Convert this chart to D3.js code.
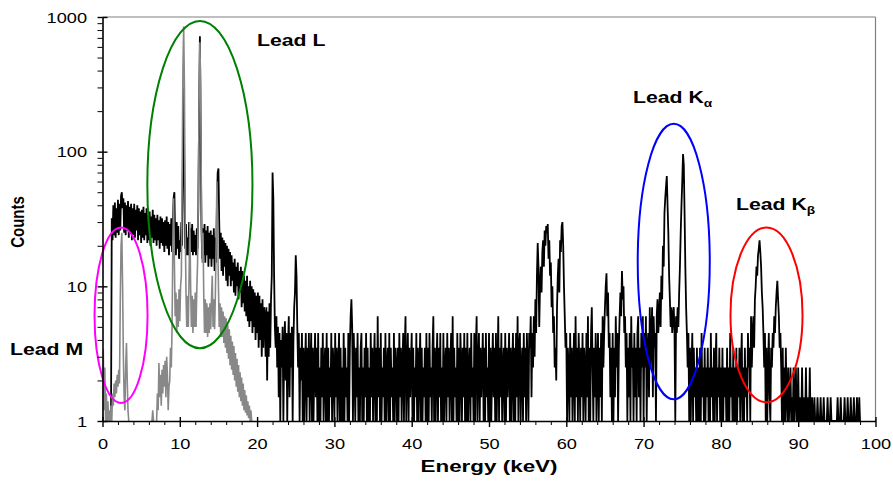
<!DOCTYPE html>
<html>
<head>
<meta charset="utf-8">
<style>
  body { margin: 0; background: #fff; }
  svg text { font-family: "Liberation Sans", Arial, sans-serif; }
</style>
</head>
<body>
<svg id="chart" width="893" height="481"></svg>
<script src="https://d3js.org/d3.v7.min.js"></script>
<script>
// spectrum behind lead (black), 0.1 keV per point, one row per keV
const blackStart = 0, blackStep = 0.1;
const blackCounts = [
  null,null,null,null,null,null,null,null,null,null,
  null,1,32,22,40,24,42,23,38,25,
  44,24,41,26,47,50,38,45,25,42,
  24,40,26,43,23,39,25,41,22,38,
  24,41,23,37,26,40,22,38,24,36,
  21,37,23,39,22,35,24,38,21,34,
  22,36,20,33,23,37,21,34,22,32,
  20,34,22,31,19,33,21,32,20,30,
  18,31,20,33,19,30,17,29,20,32,
  18,29,45,50,22,17,30,19,28,16,
  22,18,30,20,90,300,60,19,29,17,
  23,17,30,16,27,18,29,17,26,18,
  24,17,27,19,40,200,720,150,28,16,
  27,17,29,15,26,17,28,14,25,16,
  26,14,24,16,27,13,23,15,40,70,
  75,30,16,25,13,23,12,22,14,21,
  11,20,10,19,12,18,10,17,11,15,
  9,16,8.5,14,10,15,8,13,9,14,
  7,13,7.5,12,6.5,11,6,12,5.5,10,
  5,11,5.5,10,4.5,9.5,5,9,4,8.5,
  4.5,9,3.5,8.5,4,7.5,3,8,3.5,7,
  6,3,7,2,6.5,3,7.5,3.5,8,12,
  70,45,12,5,3.5,6,2.5,5,1.5,4.5,
  1,4,2.5,5,1,3.5,5.5,2,4.5,1,
  3.5,6,1.5,4.5,2.5,5,1,4,7,9,
  17,12,5,2.5,4.5,1,3.5,2,4.5,1,
  3.5,1,2.5,4.5,1,3.5,1.5,4.5,1,2.5,
  4.5,1,3.5,1,2.5,4.5,1.5,3.5,1,4.5,
  1,2.5,1,3.5,1.5,4.5,1,2.5,3.5,1,
  4.5,1,3.5,1,2.5,1.5,4.5,1,3.5,2.5,
  1,4.5,1.5,3.5,1,2.5,4.5,1,3.5,1,
  2.5,1,4.5,1,3.5,1.5,2.5,1,4.5,1,
  3.5,6,8,5,1,4.5,2.5,1,3.5,1.5,
  4.5,1,2.5,1,3.5,4.5,1,2.5,1,3.5,
  1.5,4.5,1,3.5,1,2.5,1,4.5,1.5,3.5,
  1,2.5,4.5,1,3.5,1,6,1.5,3.5,1,
  4.5,1,2.5,1.5,3.5,1,4.5,1,2.5,3.5,
  1,4.5,1,3.5,1.5,2.5,1,4.5,1,3.5,
  2.5,1,3.5,1,4.5,1.5,3.5,1,2.5,4.5,
  1,3.5,6,1,2.5,4.5,1,3.5,1.5,2.5,
  4.5,1,3.5,1,2.5,1.5,4.5,1,3.5,1,
  2.5,4.5,1,3.5,1,2.5,1.5,3.5,1,4.5,
  1,3.5,1,4.5,1.5,2.5,1,3.5,6,1,
  3.5,1,2.5,4.5,1,3.5,1.5,4.5,1,2.5,
  1,4.5,1,2.5,3.5,1,4.5,1.5,3.5,1,
  2.5,4.5,1,6,1,3.5,1.5,2.5,1,4.5,
  1,3.5,1,4.5,2.5,1,3.5,1.5,4.5,1,
  3.5,1,4.5,1,2.5,3.5,1,4.5,1.5,2.5,
  1,4.5,1,3.5,6,1,2.5,4.5,1,3.5,
  1.5,2.5,4.5,1,3.5,1,4.5,1.5,2.5,1,
  4.5,1,3.5,1,2.5,4.5,1.5,3.5,1,4.5,
  1,2.5,6,1,3.5,1.5,4.5,1,2.5,3.5,
  1,4.5,1,3.5,1.5,2.5,4.5,1,3.5,1,
  2.5,4.5,1,3.5,1,4.5,1.5,6,1,3.5,
  4.5,1,2.5,3.5,1,4.5,1.5,3.5,1,4.5,
  2.5,1,4.5,3.5,6,1.5,4.5,2.5,6,3,
  8,4.5,12,21,14,5,10,14,9,18,
  22,14,26,20,28,25,29,16,22,12,
  15,7,10,4.5,6,2.5,3.5,2,7,12,
  16,9,22,18,28,30,20,10,6,3.5,
  4.5,1,3.5,2.5,1,4.5,1.5,3.5,1,2.5,
  4.5,1,6,1.5,3.5,1,4.5,2.5,1,3.5,
  1.5,4.5,1,3.5,2.5,1,4.5,1.5,6,1,
  3.5,1,4.5,7,2.5,1,3.5,1.5,4.5,1,
  2.5,4.5,1,3.5,1.5,4.5,1,6,2.5,4.5,
  7,10,12.5,6,9,3.5,4.5,1.5,3.5,1,
  4.5,1,3.5,1.5,6,2.5,4.5,1,3.5,6,
  9,6,13,8,10,4.5,6,2.5,4.5,1,
  3.5,1.5,4.5,1,6,2.5,3.5,1,4.5,1.5,
  3.5,1,4.5,6,1.5,3.5,1,4.5,2.5,6,
  1,4.5,2.5,6,1,3.5,4.5,1.5,7,2.5,
  4.5,7,1.5,6,3.5,4.5,1,6,8,4.5,
  6,9,5,12,8,20,14,35,45,55,
  66,40,25,12,8,5,7,4.5,6,7,
  4.5,1,6,4.5,7,5,9,14,25,40,
  60,96,80,35,14,7,4.5,2.5,4.5,1,
  3.5,1,2.5,4.5,1,3.5,1.5,2.5,1,3.5,
  1,2.5,1,3.5,1,4.5,1.5,2.5,1,3.5,
  1,2.5,1.5,3.5,1,2.5,1,4.5,1.5,2.5,
  1,3.5,1,2.5,4.5,1,2.5,1.5,3.5,1,
  2.5,1,3.5,1,2.5,1.5,2.5,1,3.5,1,
  2.5,1,4.5,1.5,2.5,1,3.5,1,2.5,1,
  3.5,1,2.5,1.5,3.5,1,2.5,4.5,1,2.5,
  1,3.5,1.5,2.5,1,4.5,2.5,3.5,1,6,
  2.5,4.5,6,3.5,8,10,14,12,17,19,
  22,18,14,9,7,4.5,2.5,4.5,1,3.5,
  1,2.5,4.5,1.5,1,3.5,2.5,4.5,3.5,6,
  4.5,7,9,11,8,6,3.5,4.5,2.5,1,
  3.5,1,2.5,1,3.5,1.5,1,2.5,1,1.5,
  2.5,1,1.5,1,2.5,1,1.5,2.5,1,1,
  2.5,1,1.5,1,1,2.5,1,1.5,1,1,
  2.5,1,1,1.5,1,2.5,1,1,1.5,1,
  1,1.5,1,1,1,1.5,1,1,1,1.5,
  1,1,1,1.5,1,1,1,1,1.5,1,
  1,1,1.5,1,1,1,1,1,1,1,
  1,1.5,1,1,1,1.5,1,1,1,1,
  1.5,1,1,1,1.5,1,1,1,1.5,1,
  1,1,1.5,1,1,1,1.5,1,1,1.5,
  1
];

// unshielded spectrum (grey), 0.1 keV per point
const grayStart = 0, grayStep = 0.1;
const grayCounts = [
  1,3.4,1.2,2.5,1,1.6,1,1.4,1,1.2,
  1,1.3,1,1.6,1.3,1.9,1.5,2,1.6,2.2,
  1.8,2.4,1.9,8,20,25,10,3,1.5,1.2,
  2.5,3.8,2,1.2,1,null,null,null,null,null,
  null,null,null,null,null,null,null,null,null,null,
  null,null,null,null,null,null,null,null,null,null,
  null,null,null,null,1,1.2,1,null,null,null,
  1,1.6,1.2,2.7,1.5,2.2,1.3,2.4,1.6,2.6,
  1.8,2.8,1.5,3,2.2,1.2,1.8,2,3.5,2.5,
  5,20,45,15,6,9,4.5,8,5,9.5,
  5.5,10,12,60,400,850,300,30,9,5,
  8.5,5,12,30,10,5,8.5,4.5,8,5,
  9,5,9.5,15,50,250,650,300,40,15,
  25,8.5,4.5,8,4.5,7.5,4.2,7,4.5,7.5,
  4.8,8,12,5,8,4.8,8.5,20,60,25,
  10,5,7.5,4.2,7,4.2,6.5,3.8,6,3.5,
  5.8,3.2,5.2,2.9,4.8,2.6,4.3,2.4,3.9,2.2,
  3.6,2,3.2,1.8,2.9,1.65,2.6,1.5,2.3,1.4,
  2.1,1.3,1.9,1.2,1.7,1.15,1.55,1.1,1.4,1.05,
  1.3,1,1.2,1
];

const xTicks = [0, 10, 20, 30, 40, 50, 60, 70, 80, 90, 100];
const yTicks = [1, 10, 100, 1000];

// circled peak groups: centre energy, half width (keV), top / bottom count
const regions = [
  {name: "M",  color: "#ff00ff", energy: 2.4,  halfWidth: 3.43, top: 27.3, bottom: 1.36},
  {name: "L",  color: "#008000", energy: 12.6, halfWidth: 6.8,  top: 935,  bottom: 3.47},
  {name: "Ka", color: "#0000ff", energy: 73.9, halfWidth: 4.66, top: 161,  bottom: 1.45},
  {name: "Kb", color: "#ff0000", energy: 85.9, halfWidth: 4.66, top: 27.3, bottom: 1.38}
];

const svg = d3.select("#chart");
const x = d3.scaleLinear().domain([0, 100]).range([102.5, 875.5]);
const y = d3.scaleLog().domain([1, 1000]).range([421, 17]);

svg.append("clipPath").attr("id", "plot")
  .append("rect")
  .attr("x", x(0)).attr("y", y(1000))
  .attr("width", x(100) - x(0)).attr("height", y(1) - y(1000));

// frame top / right
svg.append("line")
  .attr("x1", x(0)).attr("x2", x(100)).attr("y1", y(1000)).attr("y2", y(1000))
  .attr("stroke", "#808080").attr("stroke-width", 1.2);
svg.append("line")
  .attr("x1", x(100)).attr("x2", x(100)).attr("y1", y(1000)).attr("y2", y(1))
  .attr("stroke", "#808080").attr("stroke-width", 1.2);

const toPts = (arr, start, step) => arr.map((c, i) => ({e: start + i * step, c: c}));

const line = d3.line()
  .defined(d => d.c != null)
  .x(d => x(d.e))
  .y(d => y(d.c));

const plot = svg.append("g").attr("clip-path", "url(#plot)");

plot.append("path")
  .datum(toPts(blackCounts, blackStart, blackStep))
  .attr("fill", "none")
  .attr("stroke", "#000")
  .attr("stroke-width", 1.8)
  .attr("d", line);

plot.append("path")
  .datum(toPts(grayCounts, grayStart, grayStep))
  .attr("fill", "none")
  .attr("stroke", "#888")
  .attr("stroke-width", 1.6)
  .attr("d", line);

// ellipses
svg.append("g").selectAll("ellipse")
  .data(regions)
  .join("ellipse")
  .attr("cx", d => x(d.energy))
  .attr("cy", d => (y(d.top) + y(d.bottom)) / 2)
  .attr("rx", d => x(d.energy + d.halfWidth) - x(d.energy))
  .attr("ry", d => (y(d.bottom) - y(d.top)) / 2)
  .attr("fill", "none")
  .attr("stroke", d => d.color)
  .attr("stroke-width", 2);

// y axis
const yAxis = svg.append("g").attr("transform", `translate(${x(0)},0)`);
yAxis.call(d3.axisLeft(y).tickValues(yTicks).tickFormat(d3.format("d")).tickSize(5).tickSizeOuter(0));
yAxis.select(".domain").attr("stroke-width", 1.6);
yAxis.selectAll(".tick line").attr("stroke-width", 1.4);
yAxis.selectAll(".tick text")
  .attr("x", -11.9).attr("dy", "0.36em")
  .attr("font-size", 14).attr("fill", "#000")
  .attr("transform", "scale(1.3,1)");
// inner half of major ticks
svg.append("g").attr("transform", `translate(${x(0)},0)`)
  .call(d3.axisLeft(y).tickValues(yTicks).tickFormat("").tickSize(-5))
  .call(g => g.select(".domain").remove())
  .selectAll("line").attr("stroke-width", 1.4);
// minor ticks
svg.append("g").attr("transform", `translate(${x(0)},0)`)
  .call(d3.axisLeft(y).tickValues(y.ticks().filter(v => !yTicks.includes(v))).tickFormat("").tickSize(5))
  .call(g => g.select(".domain").remove());

// x axis
const xAxis = svg.append("g").attr("transform", `translate(0,${y(1)})`);
xAxis.call(d3.axisBottom(x).tickValues(xTicks).tickSize(6).tickSizeOuter(0));
xAxis.select(".domain").attr("stroke-width", 1.6);
xAxis.selectAll(".tick line").attr("stroke-width", 1.4);
xAxis.selectAll(".tick text")
  .attr("y", 28).attr("dy", 0)
  .attr("font-size", 14).attr("fill", "#000")
  .attr("transform", "scale(1.3,1)");
svg.append("g").attr("transform", `translate(0,${y(1)})`)
  .call(d3.axisBottom(x).tickValues(xTicks).tickFormat("").tickSize(-4))
  .call(g => g.select(".domain").remove())
  .selectAll("line").attr("stroke-width", 1.4);
svg.append("g").attr("transform", `translate(0,${y(1)})`)
  .call(d3.axisBottom(x).tickValues(d3.range(2, 100, 2).filter(v => v % 10)).tickFormat("").tickSize(4))
  .call(g => g.select(".domain").remove());

// axis titles
svg.append("text")
  .attr("x", (x(0) + x(100)) / 2).attr("y", 472)
  .attr("text-anchor", "middle")
  .attr("font-size", 16).attr("font-weight", "bold")
  .attr("textLength", 137).attr("lengthAdjust", "spacingAndGlyphs")
  .text("Energy (keV)");

svg.append("text")
  .attr("transform", "translate(24,222) rotate(-90) scale(1,1.25)")
  .attr("text-anchor", "middle")
  .attr("font-size", 15).attr("font-weight", "bold")
  .text("Counts");

// annotation labels
function label(px, py, main, sub) {
  const t = svg.append("text")
    .attr("transform", `translate(${px},${py}) scale(1.25,1)`)
    .attr("font-size", 17).attr("font-weight", "bold");
  t.append("tspan").text(main);
  if (sub) t.append("tspan").attr("font-size", 11).attr("dy", 4).text(sub);
}
label(257, 46, "Lead L");
label(10, 355, "Lead M");
label(633, 103, "Lead K", "\u03b1");
label(736, 210, "Lead K", "\u03b2");
</script>
</body>
</html>
